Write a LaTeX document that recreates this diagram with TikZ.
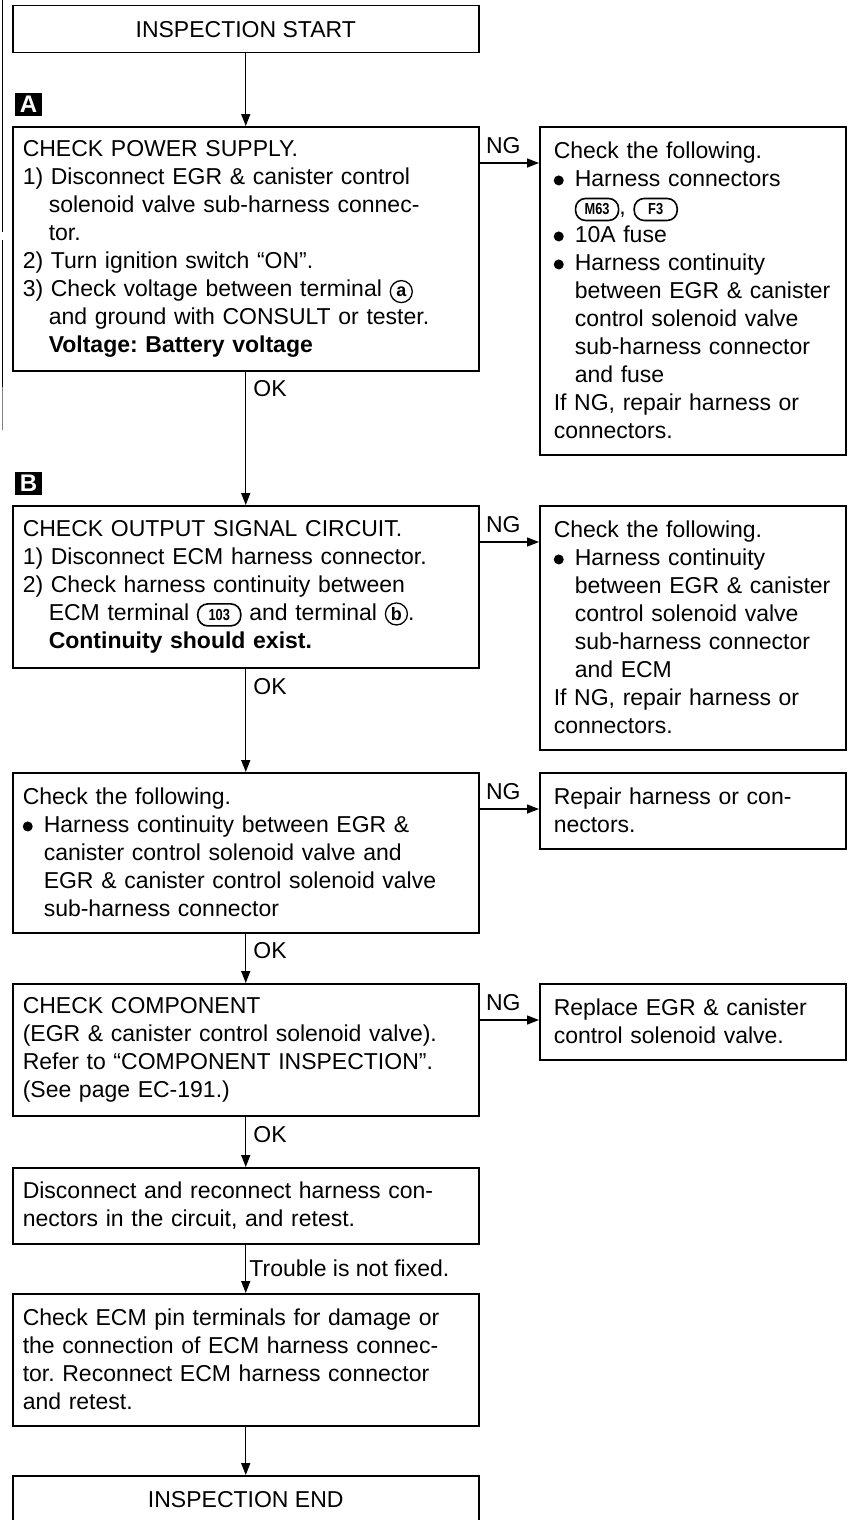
\documentclass[tikz,border=0pt]{standalone}
\usepackage{fontspec}
\setmainfont{Liberation Sans}
\usepackage{graphicx}
\usetikzlibrary{arrows.meta}
\frenchspacing

% small inline marks used inside the box texts
\newcommand{\blt}{\makebox[21pt][l]{\tikz[baseline=-6.5pt]\fill (0,0) circle (5pt);}}
\newcommand{\nind}{\hspace*{26pt}}
\newcommand{\bind}{\hspace*{21pt}}
\newcommand{\conn}[1]{\tikz[baseline=(cn.base)]\node[draw, line width=1.6pt, rounded corners=10pt,
  text width={}, align=center, anchor=center, minimum width=43pt, minimum height=22pt, inner sep=1pt,
  font=\bfseries\fontsize{16}{16}\selectfont] (cn) {\scalebox{0.8}[1]{#1}};}
\newcommand{\crc}[1]{\tikz[baseline=(cc.base)]\node[draw, circle, line width=1.3pt,
  text width={}, align=center, anchor=center, inner sep=0pt, minimum size=22pt,
  font=\bfseries\fontsize{18}{18}\selectfont] (cc) {#1};}

\begin{document}
\begin{tikzpicture}[x=1pt, y=-1pt, font=\fontsize{23}{28}\selectfont,
  >={Triangle[length=12pt,width=9pt]}, line width=1.4pt,
  stepbox/.style={draw, line width=1.5pt, anchor=north west, align=left,
    inner xsep=10pt, inner ysep=0pt, text width=446pt},
  notebox/.style={stepbox, inner xsep=14pt, text width=278pt},
  endbox/.style={draw, line width=1.5pt, anchor=north west, minimum width=466pt,
    minimum height=47pt, inner sep=0pt},
  tagbox/.style={fill=black, text=white, minimum width=27pt, minimum height=23pt,
    inner sep=0pt, font=\bfseries\fontsize{24}{24}\selectfont},
  lbl/.style={inner sep=1pt}]
  \useasboundingbox (0,0) rectangle (852,1520);
  \clip (0,0) rectangle (852,1520);

  % page edge of the scan
  \draw[line width=1pt] (2.5,0) -- (2.5,232) (2.5,240) -- (2.5,387);
  \draw[line width=1pt, gray] (2.5,387) -- (2.5,430);

  % main column
  \node[endbox] (start) at (12,5) {INSPECTION START};
  \node[tagbox] (tagA) at (28.5,104.5) {A};
  \node[stepbox, minimum height=244pt] (power) at (12,126) {CHECK POWER SUPPLY.\\
    1) Disconnect EGR \& canister control\\
    \nind solenoid valve sub-harness connec-\\
    \nind tor.\\
    2) Turn ignition switch ``ON''.\\
    3) Check voltage between terminal \crc{a}\\
    \nind and ground with CONSULT or tester.\\
    \nind\textbf{Voltage: Battery voltage}};
  \node[tagbox] (tagB) at (28.5,483.5) {B};
  \node[stepbox, minimum height=162pt] (output) at (12,505) {CHECK OUTPUT SIGNAL CIRCUIT.\\
    1) Disconnect ECM harness connector.\\
    2) Check harness continuity between\\
    \nind ECM terminal \conn{103} and terminal \crc{b}.\\
    \nind\textbf{Continuity should exist.}};
  \node[stepbox, minimum height=160pt] (follow) at (12,772) {Check the following.\\
    \blt Harness continuity between EGR \&\\
    \bind canister control solenoid valve and\\
    \bind EGR \& canister control solenoid valve\\
    \bind sub-harness connector};
  \node[stepbox, minimum height=132pt] (comp) at (12,983) {CHECK COMPONENT\\
    (EGR \& canister control solenoid valve).\\
    Refer to ``COMPONENT INSPECTION''.\\
    (See page EC-191.)};
  \node[stepbox, minimum height=76pt] (recon) at (12,1167) {Disconnect and reconnect harness con-\\
    nectors in the circuit, and retest.};
  \node[stepbox, minimum height=132pt] (pins) at (12,1293) {Check ECM pin terminals for damage or\\
    the connection of ECM harness connec-\\
    tor. Reconnect ECM harness connector\\
    and retest.};
  \node[endbox] (finish) at (12,1475) {INSPECTION END};

  % NG column
  \node[notebox, minimum height=328pt] (powerng) at (539,126) {Check the following.\\
    \blt Harness connectors\\
    \bind\conn{M63}, \conn{F3}\\
    \blt 10A fuse\\
    \blt Harness continuity\\
    \bind between EGR \& canister\\
    \bind control solenoid valve\\
    \bind sub-harness connector\\
    \bind and fuse\\
    If NG, repair harness or\\
    connectors.};
  \node[notebox, minimum height=244pt] (outputng) at (539,505) {Check the following.\\
    \blt Harness continuity\\
    \bind between EGR \& canister\\
    \bind control solenoid valve\\
    \bind sub-harness connector\\
    \bind and ECM\\
    If NG, repair harness or\\
    connectors.};
  \node[notebox, minimum height=76pt] (followng) at (539,772) {Repair harness or con-\\
    nectors.};
  \node[notebox, minimum height=76pt] (compng) at (539,983) {Replace EGR \& canister\\
    control solenoid valve.};

  % OK path
  \draw[->] (start) -- (power);
  \draw[->] (power) -- (output) node[lbl, pos=.13, right=6pt] {OK};
  \draw[->] (output) -- (follow) node[lbl, pos=.17, right=6pt] {OK};
  \draw[->] (follow) -- (comp) node[lbl, pos=.35, right=6pt] {OK};
  \draw[->] (comp) -- (recon) node[lbl, pos=.35, right=6pt] {OK};
  \draw[->] (recon) -- (pins) node[lbl, pos=.48, right=2pt] {Trouble is not fixed.};
  \draw[->] (pins) -- (finish);

  % NG path
  \draw[->] ([yshift=-37pt]power.north east) -- ([yshift=-37pt]powerng.north west)
    node[lbl, pos=.4, above=8pt] {NG};
  \draw[->] ([yshift=-37pt]output.north east) -- ([yshift=-37pt]outputng.north west)
    node[lbl, pos=.4, above=8pt] {NG};
  \draw[->] ([yshift=-37pt]follow.north east) -- ([yshift=-37pt]followng.north west)
    node[lbl, pos=.4, above=8pt] {NG};
  \draw[->] ([yshift=-37pt]comp.north east) -- ([yshift=-37pt]compng.north west)
    node[lbl, pos=.4, above=8pt] {NG};
\end{tikzpicture}
\end{document}
